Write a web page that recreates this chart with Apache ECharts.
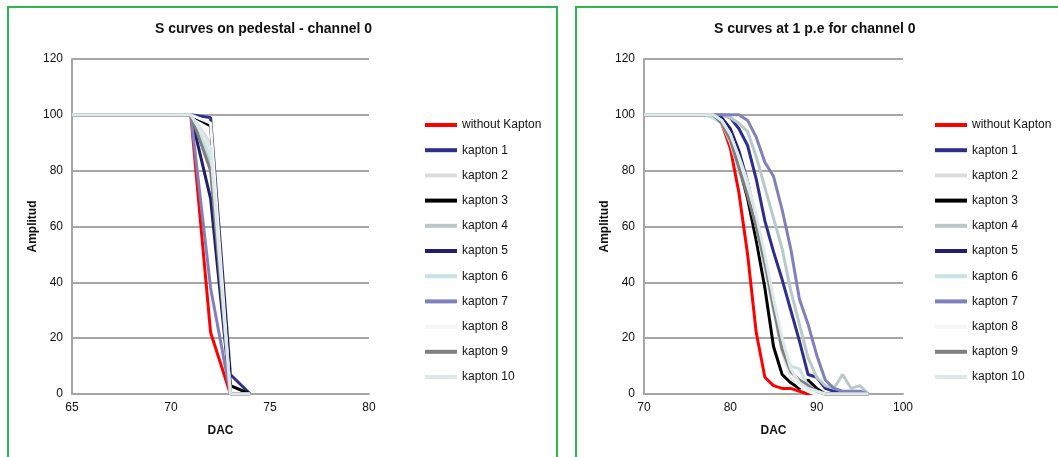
<!DOCTYPE html>
<html>
<head>
<meta charset="utf-8">
<script src="https://cdn.jsdelivr.net/npm/echarts@6/dist/echarts.min.js"></script>
<style>
  html, body { margin: 0; padding: 0; background: #fff; }
  #wrap { position: relative; width: 1058px; height: 457px; overflow: hidden; }
  .panel { position: absolute; border: 2px solid #2DB84D; background: #fff; }
  #chart { position: absolute; left: 0; top: 0; width: 1058px; height: 457px; }
</style>
</head>
<body>
<div id="wrap">
  <div class="panel" style="left:7px;top:6px;width:547px;height:470px;"></div>
  <div class="panel" style="left:575px;top:6px;width:500px;height:470px;"></div>
  <div id="chart"></div>
</div>
<script>
// ---------- data ----------
const seriesNames = ['without Kapton', 'kapton 1', 'kapton 2', 'kapton 3', 'kapton 4', 'kapton 5',
  'kapton 6', 'kapton 7', 'kapton 8', 'kapton 9', 'kapton 10'];
const seriesColors = ['#FF0000', '#2E2E8C', '#DCDCDC', '#000000', '#B9C9C9', '#1F1F6E',
  '#C6E2E2', '#8080BC', '#F6F6F6', '#7F7F7F', '#DCE9E9'];

// Left chart: S curves on pedestal (DAC 65..74)
const pedDac = [65, 66, 67, 68, 69, 70, 71, 72, 73, 74];
const pedWithout = [100, 100, 100, 100, 100, 100, 100, 22, 0, 0];
const pedK1  = [100, 100, 100, 100, 100, 100, 100, 99, 7, 0];
const pedK2  = [100, 100, 100, 100, 100, 100, 100, 90, 0, 0];
const pedK3  = [100, 100, 100, 100, 100, 100, 100, 96, 3, 0];
const pedK4  = [100, 100, 100, 100, 100, 100, 100, 82, 0, 0];
const pedK5  = [100, 100, 100, 100, 100, 100, 100, 70, 0, 0];
const pedK6  = [100, 100, 100, 100, 100, 100, 100, 85, 0, 0];
const pedK7  = [100, 100, 100, 100, 100, 100, 100, 38, 0, 0];
const pedK8  = [100, 100, 100, 100, 100, 100, 100, 97, 0, 0];
const pedK9  = [100, 100, 100, 100, 100, 100, 100, 80, 0, 0];
const pedK10 = [100, 100, 100, 100, 100, 100, 100, 88, 0, 0];

// Right chart: S curves at 1 p.e (DAC 70..96)
const peDac = [70, 71, 72, 73, 74, 75, 76, 77, 78, 79, 80, 81, 82, 83, 84, 85, 86, 87, 88, 89, 90, 91, 92, 93, 94, 95, 96];
const peWithout = [100, 100, 100, 100, 100, 100, 100, 100, 100, 97, 88, 72, 50, 22, 6, 3, 2, 2, 1, 0, 1, 0, 0, 0, 0, 0, 0];
const peK1  = [100, 100, 100, 100, 100, 100, 100, 100, 100, 100, 99, 95, 89, 77, 62, 51, 41, 30, 19, 7, 6, 2, 1, 0, 0, 0, 0];
const peK2  = [100, 100, 100, 100, 100, 100, 100, 100, 99, 97, 90, 80, 70, 60, 46, 30, 15, 6, 3, 1, 0, 0, 0, 0, 0, 0, 0];
const peK3  = [100, 100, 100, 100, 100, 100, 100, 100, 100, 98, 92, 82, 70, 55, 38, 17, 7, 4, 2, 5, 2, 0, 0, 0, 0, 0, 0];
const peK4  = [100, 100, 100, 100, 100, 100, 100, 100, 100, 100, 99, 97, 94, 85, 74, 63, 52, 37, 25, 13, 6, 3, 2, 7, 2, 3, 0];
const peK5  = [100, 100, 100, 100, 100, 100, 100, 100, 100, 99, 95, 87, 76, 62, 48, 33, 18, 8, 4, 2, 1, 0, 0, 0, 0, 0, 0];
const peK6  = [100, 100, 100, 100, 100, 100, 100, 100, 99, 97, 91, 82, 72, 60, 45, 30, 18, 10, 9, 3, 1, 0, 0, 0, 0, 0, 0];
const peK7  = [100, 100, 100, 100, 100, 100, 100, 100, 100, 100, 100, 100, 98, 92, 83, 78, 66, 52, 34, 25, 14, 5, 2, 1, 1, 1, 0];
const peK8  = [100, 100, 100, 100, 100, 100, 100, 100, 100, 98, 93, 84, 74, 62, 48, 32, 17, 7, 3, 1, 0, 0, 0, 0, 0, 0, 0];
const peK9  = [100, 100, 100, 100, 100, 100, 100, 100, 100, 97, 91, 81, 71, 60, 47, 31, 16, 8, 5, 3, 1, 0, 0, 0, 0, 0, 0];
const peK10 = [100, 100, 100, 100, 100, 100, 100, 100, 100, 98, 93, 85, 76, 64, 50, 34, 20, 9, 4, 2, 1, 0, 0, 0, 0, 0, 0];

const pedSeries = [pedWithout, pedK1, pedK2, pedK3, pedK4, pedK5, pedK6, pedK7, pedK8, pedK9, pedK10];
const peSeries = [peWithout, peK1, peK2, peK3, peK4, peK5, peK6, peK7, peK8, peK9, peK10];

const leftTitle = 'S curves on pedestal - channel 0';
const rightTitle = 'S curves at 1 p.e for channel 0';
const yTitle = 'Amplitud';
const xTitle = 'DAC';

// ---------- chart ----------
const FONT = 'Liberation Sans, Arial, sans-serif';
const GRID_COLOR = '#A6A6A6';

function pairs(xs, ys) { return xs.map((x, i) => [x, ys[i]]); }

function makeAxes(gridIndex, xmin, xmax, xint) {
  const axisLabel = { color: '#111', fontSize: 12, fontFamily: FONT };
  return {
    x: {
      type: 'value', gridIndex, min: xmin, max: xmax, interval: xint,
      name: xTitle, nameLocation: 'middle', nameGap: 31,
      nameTextStyle: { fontWeight: 'bold', fontSize: 12, color: '#111', fontFamily: FONT },
      axisLine: { show: true, lineStyle: { color: GRID_COLOR, width: 2 } },
      axisTick: { show: false },
      splitLine: { show: false },
      axisLabel: Object.assign({ margin: 8 }, axisLabel)
    },
    y: {
      type: 'value', gridIndex, min: 0, max: 120, interval: 20,
      name: yTitle, nameLocation: 'middle', nameGap: 32, nameRotate: 90,
      nameTextStyle: { fontWeight: 'bold', fontSize: 12, color: '#111', fontFamily: FONT },
      axisLine: { show: true, lineStyle: { color: GRID_COLOR, width: 2 } },
      axisTick: { show: false },
      splitLine: { show: true, lineStyle: { color: GRID_COLOR, width: 2 } },
      axisLabel: Object.assign({ margin: 9 }, axisLabel)
    }
  };
}

const a0 = makeAxes(0, 65, 80, 5);
const a1 = makeAxes(1, 70, 100, 10);

const series = [];
seriesNames.forEach((name, i) => {
  series.push({
    name, type: 'line', xAxisIndex: 0, yAxisIndex: 0,
    data: pairs(pedDac, pedSeries[i]), showSymbol: false, symbol: 'none',
    lineStyle: { color: seriesColors[i], width: 3 }, itemStyle: { color: seriesColors[i] },
    emphasis: { disabled: true }, silent: true
  });
});
seriesNames.forEach((name, i) => {
  series.push({
    name, type: 'line', xAxisIndex: 1, yAxisIndex: 1,
    data: pairs(peDac, peSeries[i]), showSymbol: false, symbol: 'none',
    lineStyle: { color: seriesColors[i], width: 3 }, itemStyle: { color: seriesColors[i] },
    emphasis: { disabled: true }, silent: true
  });
});

function legend(left) {
  return {
    orient: 'vertical', left, top: 118, padding: 0,
    icon: 'rect', itemWidth: 32, itemHeight: 4, itemGap: 11.2,
    selectedMode: false,
    textStyle: { fontSize: 12, color: '#111', fontFamily: FONT, lineHeight: 14 },
    data: seriesNames.map((n, i) => ({ name: n, itemStyle: { color: seriesColors[i] } }))
  };
}

const chart = echarts.init(document.getElementById('chart'), null, { renderer: 'canvas' });
chart.setOption({
  animation: false,
  backgroundColor: 'transparent',
  title: [
    { text: leftTitle, left: 150, top: 17, textStyle: { fontSize: 14, fontWeight: 'bold', color: '#111', fontFamily: FONT } },
    { text: rightTitle, left: 709, top: 17, textStyle: { fontSize: 14, fontWeight: 'bold', color: '#111', fontFamily: FONT } }
  ],
  legend: [legend(425), legend(935)],
  grid: [
    { left: 72, top: 59, width: 297, height: 335 },
    { left: 644, top: 59, width: 259, height: 335 }
  ],
  xAxis: [a0.x, a1.x],
  yAxis: [a0.y, a1.y],
  series
});
</script>
</body>
</html>
